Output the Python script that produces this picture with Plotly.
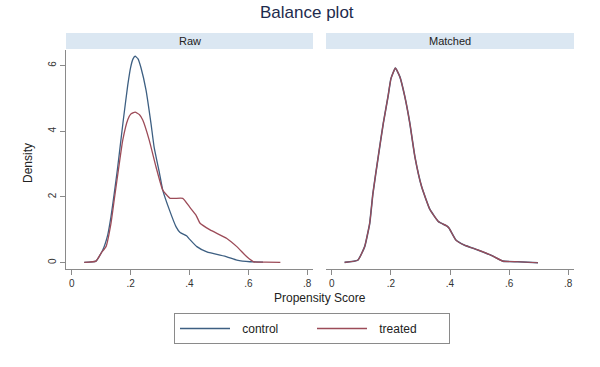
import plotly.graph_objects as go

# Raw panel: control
raw_control_x = [0.042, 0.082, 0.105, 0.122, 0.133, 0.144, 0.155, 0.165, 0.175, 0.19, 0.2, 0.208, 0.215, 0.225, 0.235, 0.252, 0.269, 0.28, 0.298, 0.309, 0.332, 0.354, 0.368, 0.39, 0.4, 0.425, 0.459, 0.527, 0.561, 0.606, 0.65]
raw_control_y = [0.01, 0.05, 0.39, 0.85, 1.4, 2.1, 2.85, 3.6, 4.35, 5.4, 5.95, 6.2, 6.28, 6.2, 5.93, 5.26, 4.24, 3.5, 2.72, 2.21, 1.6, 1.1, 0.92, 0.82, 0.72, 0.49, 0.33, 0.18, 0.08, 0.03, 0.02]
# Raw panel: treated
raw_treated_x = [0.042, 0.082, 0.1, 0.116, 0.133, 0.144, 0.161, 0.173, 0.19, 0.2, 0.215, 0.23, 0.241, 0.263, 0.286, 0.309, 0.334, 0.377, 0.4, 0.422, 0.436, 0.47, 0.527, 0.561, 0.595, 0.618, 0.66, 0.709]
raw_treated_y = [0.01, 0.05, 0.3, 0.49, 1.2, 1.91, 3.0, 3.73, 4.35, 4.52, 4.58, 4.5, 4.34, 3.73, 2.92, 2.21, 1.96, 1.96, 1.7, 1.45, 1.2, 1.0, 0.74, 0.49, 0.18, 0.03, 0.02, 0.01]
# Matched panel
matched_control_x = [0.043, 0.088, 0.111, 0.128, 0.139, 0.157, 0.174, 0.19, 0.2, 0.215, 0.23, 0.247, 0.264, 0.281, 0.304, 0.332, 0.361, 0.389, 0.397, 0.42, 0.448, 0.494, 0.539, 0.579, 0.63, 0.698]
matched_control_y = [0.01, 0.08, 0.49, 1.2, 2.11, 3.23, 4.24, 5.05, 5.6, 5.92, 5.66, 5.05, 4.24, 3.23, 2.31, 1.62, 1.25, 1.12, 1.05, 0.69, 0.54, 0.39, 0.23, 0.05, 0.03, 0.0]
matched_treated_x = [0.043, 0.088, 0.111, 0.128, 0.139, 0.157, 0.174, 0.19, 0.2, 0.215, 0.23, 0.247, 0.264, 0.281, 0.304, 0.332, 0.361, 0.389, 0.397, 0.42, 0.448, 0.494, 0.539, 0.579, 0.63, 0.698]
matched_treated_y = [0.01, 0.08, 0.49, 1.2, 2.11, 3.23, 4.24, 5.05, 5.6, 5.92, 5.66, 5.05, 4.24, 3.23, 2.31, 1.62, 1.25, 1.12, 1.05, 0.69, 0.54, 0.39, 0.23, 0.05, 0.03, 0.0]

x_ticks = [0, 0.2, 0.4, 0.6, 0.8]
x_tick_labels = ["0", ".2", ".4", ".6", ".8"]
y_ticks = [0, 2, 4, 6]
y_tick_labels = ["0", "2", "4", "6"]
panels = ["Raw", "Matched"]
series_names = ["control", "treated"]

C_CONTROL = "#3d5f82"
C_TREATED = "#9c4b58"
W, H = 600, 367
FONT = "Liberation Sans, Arial, sans-serif"

def px_x(p):
    return p / W

def px_y(p):
    return 1 - p / H

LINE = dict(shape="spline", smoothing=0.4)
pad = "\u2009\u2009\u2009"
fig = go.Figure()
fig.add_trace(go.Scatter(x=raw_control_x, y=raw_control_y, mode="lines", line=dict(color=C_CONTROL, width=1.3, **LINE), name=pad + series_names[0], xaxis="x", yaxis="y"))
fig.add_trace(go.Scatter(x=raw_treated_x, y=raw_treated_y, mode="lines", line=dict(color=C_TREATED, width=1.3, **LINE), name=pad + series_names[1], xaxis="x", yaxis="y"))
fig.add_trace(go.Scatter(x=matched_control_x, y=matched_control_y, mode="lines", line=dict(color=C_CONTROL, width=1.6, **LINE), name=series_names[0], showlegend=False, xaxis="x2", yaxis="y2"))
fig.add_trace(go.Scatter(x=matched_treated_x, y=matched_treated_y, mode="lines", line=dict(color=C_TREATED, width=1.2, **LINE), name=series_names[1], showlegend=False, xaxis="x2", yaxis="y2"))

y_dom = [px_y(269), px_y(50)]
xr = [-0.02, 0.82]
yr = [-0.19, 6.47]
common_x = dict(range=xr, tickvals=x_ticks, ticktext=x_tick_labels, showgrid=False, zeroline=False,
                showline=True, linecolor="#8a8a8a", linewidth=1, ticks="outside", ticklen=5, tickcolor="#8a8a8a",
                tickfont=dict(size=10, color="#333333", family=FONT), fixedrange=True)
fig.update_layout(
    width=W, height=H,
    margin=dict(l=0, r=0, t=0, b=0),
    paper_bgcolor="white", plot_bgcolor="white",
    font=dict(family=FONT, color="#222222"),
    showlegend=True,
    xaxis=dict(domain=[px_x(66), px_x(313)], anchor="y", **common_x),
    xaxis2=dict(domain=[px_x(326), px_x(574)], anchor="y2", **common_x),
    yaxis=dict(domain=y_dom, range=yr, anchor="x", tickvals=y_ticks, ticktext=y_tick_labels, tickangle=-90,
               showgrid=False, zeroline=False, showline=True, linecolor="#8a8a8a", linewidth=1,
               ticks="outside", ticklen=5, tickcolor="#8a8a8a",
               tickfont=dict(size=10, color="#333333", family=FONT), fixedrange=True),
    yaxis2=dict(domain=y_dom, range=yr, anchor="x2", showticklabels=False, showgrid=False, zeroline=False,
                showline=False, ticks="", fixedrange=True),
    legend=dict(orientation="h", x=px_x(174), y=px_y(313), xanchor="left", yanchor="top",
                bordercolor="#8a8a8a", borderwidth=1, bgcolor="white",
                font=dict(size=12, color="#222222", family=FONT), itemwidth=50, entrywidth=72,
                tracegroupgap=0),
)

# Title
fig.add_annotation(text="Balance plot", x=px_x(307), y=px_y(13), xref="paper", yref="paper",
                   showarrow=False, font=dict(size=17, color="#1e2b4d", family=FONT), xanchor="center", yanchor="middle")
# Strip headers
for name, (x0, x1) in zip(panels, [(66, 313), (326, 574)]):
    fig.add_shape(type="rect", xref="paper", yref="paper", x0=px_x(x0), x1=px_x(x1), y0=px_y(49), y1=px_y(33),
                  fillcolor="#dbe7f2", line=dict(width=0), layer="below")
    fig.add_annotation(text=name, x=px_x((x0 + x1) / 2), y=px_y(41), xref="paper", yref="paper",
                       showarrow=False, font=dict(size=11, color="#222222", family=FONT), xanchor="center", yanchor="middle")
# Axis titles
fig.add_annotation(text="Propensity Score", x=px_x(320), y=px_y(298), xref="paper", yref="paper",
                   showarrow=False, font=dict(size=12, color="#222222", family=FONT), xanchor="center", yanchor="middle")
fig.add_annotation(text="Density", x=px_x(28), y=px_y(163), xref="paper", yref="paper", textangle=-90,
                   showarrow=False, font=dict(size=12, color="#222222", family=FONT), xanchor="center", yanchor="middle")

fig.write_html("out.html", config={"displayModeBar": False},
               post_script="document.body.style.margin='0';")
